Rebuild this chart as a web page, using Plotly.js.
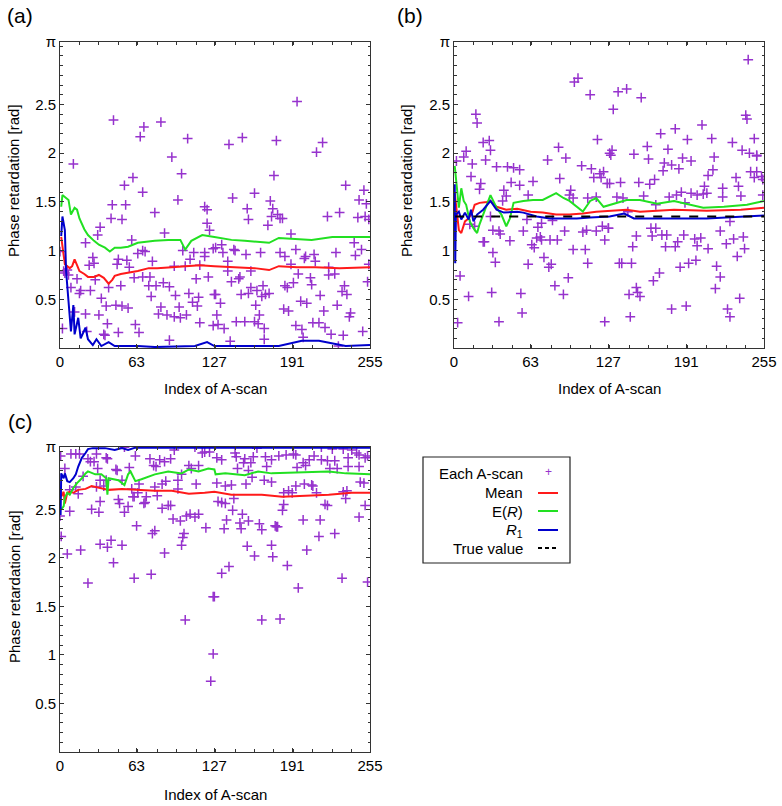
<!DOCTYPE html>
<html>
<head>
<meta charset="utf-8">
<script src="https://cdn.plot.ly/plotly-3.0.1.min.js"></script>
<style>html,body{margin:0;padding:0;background:#fff;}#chart{width:782px;height:806px;}</style>
</head>
<body>
<div id="chart"></div>
<script>
// ---------------- DATA ----------------
var xTickVals = [0, 63, 127, 191, 255];
var xTickText = ['0', '63', '127', '191', '255'];
var yTickVals = [0.5, 1, 1.5, 2, 2.5, Math.PI];
var yTickText = ['0.5', '1', '1.5', '2', '2.5', 'π'];

// Panel (a) – each A-scan
var aScanX = [44,69,66,83,105,11,92,100,60,53,68,97,43,54,119,121,78,42,51,121,33,123,31,86,21,59,0,68,70,64,101,110,119,126,27,48,55,107,119,24,28,76,47,57,94,103,115,4,7,14,29,61,68,74,112,122,9,17,25,40,50,73,79,85,90,16,34,75,95,106,114,127,109,38,46,51,56,83,98,113,21,32,81,88,94,99,104,39,62,115,126,2,22,36,37,48,65,90,12,3,6,
  195,150,139,178,216,211,176,235,160,142,250,246,252,173,154,175,179,155,174,181,183,171,230,220,245,251,254,190,128,133,242,248,143,144,153,165,181,194,243,138,134,185,202,209,227,201,190,210,221,226,221,254,253,138,157,196,206,207,187,185,192,234,236,232,141,147,148,167,157,162,166,172,169,161,128,132,149,155,198,203,214,228,129,130,135,145,152,160,163,164,168,184,188,194,199,208,213,218,217,223,238,239,233,249,140,168,200,229];
var aScanY = [2.34,2.27,2.17,2.32,2.15,1.89,1.96,1.79,1.75,1.67,1.60,1.52,1.47,1.47,1.45,1.42,1.39,1.33,1.32,1.28,1.24,1.21,1.16,1.18,1.08,1.11,0.99,1.00,0.99,0.97,1.00,0.98,0.98,1.02,0.93,0.91,0.90,0.91,0.94,0.85,0.87,0.89,0.86,0.83,0.84,0.84,0.85,0.77,0.75,0.71,0.70,0.72,0.73,0.73,0.71,0.73,0.62,0.59,0.59,0.62,0.64,0.64,0.64,0.67,0.63,0.56,0.51,0.53,0.54,0.56,0.52,0.55,0.47,0.43,0.44,0.43,0.41,0.42,0.42,0.43,0.35,0.34,0.35,0.34,0.32,0.31,0.34,0.25,0.24,0.26,0.23,0.20,0.17,0.14,0.13,0.16,0.16,0.08,0.37,0.79,0.80,
  2.53,2.16,2.09,2.13,2.11,2.01,1.77,1.67,1.59,1.54,1.62,1.52,1.48,1.51,1.43,1.43,1.37,1.32,1.35,1.33,1.33,1.26,1.39,1.35,1.34,1.35,1.32,1.17,1.03,1.06,1.08,1.01,1.01,1.00,0.96,0.98,0.98,1.01,0.95,0.89,0.98,0.94,0.94,0.96,0.98,0.92,0.86,0.89,0.83,0.76,0.75,0.86,0.68,0.79,0.79,0.76,0.72,0.65,0.62,0.64,0.67,0.64,0.55,0.58,0.68,0.71,0.73,0.64,0.62,0.59,0.53,0.56,0.55,0.44,0.55,0.46,0.55,0.56,0.48,0.46,0.54,0.44,0.34,0.24,0.20,0.27,0.27,0.27,0.25,0.34,0.20,0.40,0.38,0.23,0.19,0.26,0.26,0.21,0.38,0.14,0.32,0.36,0.13,0.17,0.07,0.09,0.11,0.02];

var aMeanX = [1,2,4,6,8,10,12,14,16,20,23,28,32,36,40,43,45,50,56,64,73,80,92,106,115,127,150,160,172,180,195,210,230,255];
var aMeanY = [1.14,1.05,0.86,0.84,0.82,0.84,0.91,0.85,0.79,0.76,0.73,0.73,0.75,0.72,0.66,0.70,0.74,0.76,0.77,0.79,0.82,0.82,0.83,0.84,0.85,0.84,0.83,0.82,0.80,0.84,0.83,0.83,0.82,0.83];
var aERX = [1,2,4,7,9,12,14,16,20,23,28,32,37,41,45,50,56,64,78,89,99,103,108,117,127,141,152,172,180,207,224,255];
var aERY = [1.45,1.57,1.55,1.52,1.37,1.44,1.42,1.33,1.22,1.16,1.10,1.06,1.03,0.99,1.03,1.03,1.04,1.08,1.10,1.11,1.11,1.01,1.10,1.16,1.14,1.11,1.10,1.08,1.13,1.11,1.14,1.14];
var aR1X = [1,2,4,5,7,9,11,12,15,17,21,23,27,30,34,40,45,64,78,111,121,127,180,199,213,235,255];
var aR1Y = [1.15,1.35,1.21,0.79,0.48,0.17,0.44,0.14,0.31,0.10,0.21,0.09,0.03,0.09,0.02,0.06,0.02,0.02,0.01,0.02,0.06,0.02,0.02,0.075,0.075,0.02,0.03];

// Panel (b) – each A-scan
var bScanX = [99,102,112,18,19,24,29,30,26,10,8,2,15,35,44,49,54,14,47,54,65,22,21,77,86,92,87,105,113,118,115,120,123,121,126,128,96,41,43,40,61,95,98,117,110,30,13,17,32,37,38,60,57,69,72,81,91,106,109,117,122,127,24,25,46,68,71,72,79,85,124,64,66,32,34,61,74,80,78,98,108,110,94,83,90,5,12,31,55,56,3,37,124,
  242,240,241,135,142,154,131,170,182,204,192,212,247,229,159,176,130,148,129,160,188,214,237,243,249,249,173,179,195,185,172,213,244,249,209,232,247,253,254,128,137,152,161,165,206,221,234,156,177,183,187,195,200,205,208,221,236,254,134,139,190,166,143,127,162,166,150,163,171,175,189,174,182,184,198,203,200,209,224,230,238,239,219,227,147,136,138,146,186,193,199,233,216,219,169,164,215,150,151,153,144,235,191,179,225,227,145];
var bScanY = [2.73,2.77,2.60,2.40,2.31,2.11,2.13,2.03,1.93,2.02,1.96,1.92,1.89,1.86,1.86,1.85,1.83,1.76,1.70,1.67,1.71,1.69,1.63,1.93,2.06,1.95,1.74,1.87,1.84,2.14,1.75,1.79,1.81,1.75,1.69,2.00,1.62,1.62,1.56,1.51,1.57,1.57,1.54,1.55,1.54,1.35,1.27,1.25,1.21,1.20,1.17,1.32,1.20,1.24,1.28,1.31,1.20,1.19,1.21,1.20,1.25,1.23,1.09,1.09,1.10,1.13,1.14,1.11,1.11,1.11,1.11,1.06,1.03,0.98,0.88,0.86,0.93,0.86,0.83,1.01,1.01,0.87,0.72,0.64,0.55,0.74,0.53,0.57,0.56,0.36,0.26,0.27,0.27,
  2.96,2.39,2.35,2.63,2.66,2.57,2.45,2.20,2.25,2.29,2.14,2.15,2.15,2.11,2.07,2.04,2.03,1.99,1.98,1.94,1.95,1.96,2.03,2.00,1.98,1.97,1.90,1.88,1.92,1.84,1.82,1.83,1.81,1.81,1.77,1.75,1.75,1.76,1.73,1.69,1.70,1.70,1.68,1.73,1.66,1.64,1.66,1.56,1.55,1.57,1.60,1.59,1.57,1.58,1.59,1.55,1.56,1.57,1.55,1.54,1.49,1.47,1.40,1.23,1.23,1.23,1.15,1.15,1.16,1.16,1.16,1.04,1.04,1.09,1.12,1.13,1.05,1.02,1.07,1.12,1.14,1.02,1.20,1.30,1.04,0.87,0.87,0.87,0.83,0.87,0.90,0.94,0.84,0.73,0.77,0.69,0.61,0.62,0.57,0.53,0.55,0.51,0.43,0.40,0.40,0.32,0.32];

var bMeanX = [0.6,2,4,6,9,12,15,17,21,27,30,35,43,52,63,73,84,95,106,117,128,142,153,181,208,236,255];
var bMeanY = [1.59,1.40,1.21,1.18,1.30,1.33,1.39,1.47,1.49,1.50,1.51,1.45,1.42,1.43,1.40,1.39,1.37,1.37,1.38,1.40,1.41,1.42,1.40,1.42,1.41,1.42,1.44];
var bERX = [0.6,2,4,6,8,10,13,16,19,21,24,30,35,39,43,46,49,57,65,73,84,90,95,101,106,112,117,123,128,134,142,153,167,181,194,205,222,241,255];
var bERY = [1.87,1.68,1.44,1.64,1.51,1.47,1.30,1.23,1.18,1.27,1.37,1.57,1.44,1.37,1.25,1.33,1.49,1.51,1.52,1.52,1.59,1.54,1.51,1.45,1.40,1.51,1.54,1.45,1.47,1.49,1.52,1.52,1.48,1.51,1.47,1.44,1.45,1.47,1.51];
var bR1X = [0.6,1.0,1.6,4,6,9,12,14,16,19,24,30,35,41,52,57,68,79,90,101,112,128,140,148,181,208,255];
var bR1Y = [1.68,0.87,1.37,1.40,1.32,1.39,1.32,1.42,1.30,1.37,1.42,1.51,1.42,1.39,1.40,1.39,1.35,1.33,1.33,1.33,1.34,1.35,1.38,1.33,1.33,1.33,1.36];
var bTrueX = [1, 255];
var bTrueY = [1.35, 1.35];

// Panel (c) – each A-scan
var cScanX = [0.5,9,13,16,23,25,28,30,38,39,31,47,46,57,62,53,74,77,79,82,86,91,94,106,108,114,111,117,119,123,4,19,33,36,38,51,65,78,84,87,97,100,112,13,8,30,15,64,71,61,59,60,80,97,33,48,49,69,70,84,89,91,56,26,32,8,53,104,107,111,114,93,99,120,63,1,78,76,102,101,33,39,42,51,17,6,86,100,44,23,61,75,103,126,126,124,0,
  162,215,224,233,129,133,144,145,152,159,151,157,169,174,180,186,192,194,200,205,209,215,220,226,237,240,244,246,251,253,146,155,158,170,195,202,222,228,237,246,129,136,141,153,168,174,194,201,207,208,211,233,236,247,250,191,188,184,130,133,143,136,142,150,183,184,218,220,235,251,137,148,155,164,166,177,178,179,200,214,246,135,149,213,226,154,174,160,175,203,187,133,139,127,196,232,253,166,181];
var cScanY = [3.05,3.07,3.07,3.07,3.02,2.99,2.99,3.07,3.03,3.02,2.92,2.90,2.91,2.93,3.05,3.14,3.02,2.95,2.94,3.01,2.99,3.02,3.11,2.95,2.92,2.95,3.14,3.08,3.09,3.09,2.92,2.84,2.80,2.74,2.80,2.80,2.76,2.73,2.76,2.79,2.80,2.86,2.76,2.73,2.70,2.73,2.66,2.67,2.63,2.63,2.71,2.63,2.64,2.71,2.58,2.60,2.56,2.56,2.57,2.51,2.54,2.54,2.53,2.50,2.47,2.48,2.47,2.43,2.45,2.42,2.45,2.40,2.38,2.31,2.33,2.22,2.28,2.25,2.25,2.21,2.14,2.11,2.18,2.13,2.08,2.04,2.05,2.13,1.95,1.74,1.79,1.83,1.36,1.60,1.01,0.73,2.43,
  3.13,3.14,3.12,3.12,3.03,3.01,3.08,3.04,3.02,3.04,2.98,2.98,3.04,3.01,3.05,3.06,3.07,3.06,2.98,3.01,3.05,3.01,3.00,3.00,3.03,3.11,3.08,3.06,3.03,3.05,2.92,2.90,2.83,2.94,2.93,2.95,2.92,2.92,2.94,2.94,2.77,2.74,2.75,2.76,2.80,2.78,2.74,2.76,2.75,2.74,2.67,2.68,2.69,2.78,2.77,2.67,2.69,2.67,2.58,2.57,2.61,2.56,2.49,2.45,2.49,2.55,2.55,2.54,2.61,2.54,2.39,2.36,2.38,2.35,2.29,2.33,2.32,2.32,2.39,2.39,2.42,2.30,2.30,2.22,2.25,2.12,2.13,2.02,2.01,2.08,1.92,1.84,1.91,1.60,1.69,1.79,1.75,1.36,1.37];

var cMeanX = [1,3,4,6,8,11,15,21,26,32,40,51,64,78,92,106,119,127,141,166,183,202,221,240,255];
var cMeanY = [2.63,2.68,2.56,2.67,2.68,2.67,2.70,2.71,2.74,2.72,2.70,2.71,2.70,2.69,2.69,2.66,2.67,2.68,2.65,2.65,2.63,2.64,2.65,2.67,2.67];
var cERX = [1,3,4,6,8,11,14,18,21,23,29,34,38,39,40,48,53,56,58,62,67,78,89,100,106,114,122,127,128,136,152,163,174,194,207,221,235,255];
var cERY = [2.50,2.53,2.62,2.67,2.65,2.72,2.77,2.82,2.87,2.89,2.86,2.86,2.82,2.65,2.82,2.80,2.75,2.86,2.89,2.79,2.81,2.86,2.89,2.87,2.91,2.89,2.92,2.91,2.86,2.87,2.85,2.89,2.87,2.88,2.89,2.89,2.87,2.86];
var cR1X = [0.5,1,3,4,6,8,11,13,15,18,21,23,27,37,45,51,56,62,70,255];
var cR1Y = [2.44,2.87,2.82,2.87,2.79,2.78,2.82,2.86,2.94,3.03,3.08,3.12,3.13,3.13,3.11,3.13,3.11,3.135,3.135,3.135];

// ---------------- STYLE ----------------
var W = 782, H = 806;
function px(x) { return x / W; }
function py(y) { return 1 - y / H; }
var FONT = 'Liberation Sans, Arial, Helvetica, sans-serif';
var C_SCAN = '#9632cd', C_MEAN = '#ff1a1a', C_ER = '#22e022', C_R1 = '#0000cc';

function scan(x, y, n) {
  return {x: x, y: y, xaxis: 'x' + n, yaxis: 'y' + n, type: 'scatter', mode: 'markers',
    marker: {symbol: 'cross-thin-open', size: 7, color: C_SCAN, line: {color: C_SCAN, width: 1.5}},
    showlegend: false, hoverinfo: 'skip'};
}
function line(x, y, n, color, dash) {
  return {x: x, y: y, xaxis: 'x' + n, yaxis: 'y' + n, type: 'scatter', mode: 'lines',
    line: {color: color, width: 2, dash: dash || 'solid'}, showlegend: false, hoverinfo: 'skip'};
}

var data = [
  scan(aScanX, aScanY, ''), line(aMeanX, aMeanY, '', C_MEAN), line(aERX, aERY, '', C_ER), line(aR1X, aR1Y, '', C_R1),
  scan(bScanX, bScanY, '2'), line(bMeanX, bMeanY, '2', C_MEAN), line(bERX, bERY, '2', C_ER), line(bR1X, bR1Y, '2', C_R1),
  line(bTrueX, bTrueY, '2', '#000', 'dash'),
  scan(cScanX, cScanY, '3'), line(cMeanX, cMeanY, '3', C_MEAN), line(cERX, cERY, '3', C_ER), line(cR1X, cR1Y, '3', C_R1)
];

var xMinor = [];
for (var k = 16; k < 255; k += 16) xMinor.push(k);

function xa(x0, x1, anchor) {
  return {domain: [px(x0), px(x1)], range: [0, 255], anchor: anchor, tickmode: 'array',
    tickvals: xTickVals, ticktext: xTickText, ticks: 'inside', ticklen: 4, tickcolor: '#333',
    showline: true, linecolor: '#333', linewidth: 1, mirror: 'allticks', showgrid: false, zeroline: false,
    minor: {tickmode: 'array', tickvals: xMinor, ticks: 'inside', ticklen: 3, tickcolor: '#333'},
    tickfont: {family: FONT, size: 15, color: '#000'}, fixedrange: true};
}
function ya(y0, y1, anchor) {
  return {domain: [py(y1), py(y0)], range: [0, Math.PI], anchor: anchor, tickmode: 'array',
    tickvals: yTickVals, ticktext: yTickText, ticks: 'inside', ticklen: 4, tickcolor: '#333',
    showline: true, linecolor: '#333', linewidth: 1, mirror: 'allticks', showgrid: false, zeroline: false,
    minor: {tick0: 0, dtick: 0.1, ticks: 'inside', ticklen: 2.5, tickcolor: '#333'},
    tickfont: {family: FONT, size: 15, color: '#000'}, fixedrange: true};
}

function ann(x, y, text, opts) {
  var a = {xref: 'paper', yref: 'paper', x: px(x), y: py(y), text: text, showarrow: false,
    font: {family: FONT, size: 15, color: '#000'}, xanchor: 'center', yanchor: 'middle'};
  for (var k in (opts || {})) a[k] = opts[k];
  return a;
}

var annotations = [
  ann(20, 16, '(a)', {font: {family: FONT, size: 21, color: '#000'}}),
  ann(410, 16, '(b)', {font: {family: FONT, size: 21, color: '#000'}}),
  ann(20, 421, '(c)', {font: {family: FONT, size: 21, color: '#000'}}),
  ann(215, 388, 'Index of A-scan'),
  ann(609, 388, 'Index of A-scan'),
  ann(215, 794, 'Index of A-scan'),
  ann(14, 181, 'Phase retardation [rad]', {textangle: -90}),
  ann(407, 181, 'Phase retardation [rad]', {textangle: -90}),
  ann(14, 587, 'Phase retardation [rad]', {textangle: -90}),
  // legend
  ann(525, 473, 'Each A-scan', {xanchor: 'right'}),
  ann(525, 492, 'Mean', {xanchor: 'right'}),
  ann(525, 511, 'E(<i>R</i>)', {xanchor: 'right'}),
  ann(525, 530, '<i>R</i><sub>1</sub>', {xanchor: 'right'}),
  ann(525, 548, 'True value', {xanchor: 'right'}),
  ann(548, 472, '+', {font: {family: FONT, size: 12, color: C_SCAN}})
];

function seg(x0, x1, y, color, dash) {
  return {type: 'line', xref: 'paper', yref: 'paper', x0: px(x0), x1: px(x1), y0: py(y), y1: py(y),
    line: {color: color, width: 2, dash: dash || 'solid'}};
}
var shapes = [
  {type: 'rect', xref: 'paper', yref: 'paper', x0: px(423), x1: px(570), y0: py(563), y1: py(457),
    line: {color: '#222', width: 1.2}, fillcolor: 'rgba(0,0,0,0)'},
  seg(538, 558, 493, C_MEAN),
  seg(538, 558, 511, C_ER),
  seg(538, 558, 530, C_R1),
  seg(538, 558, 548, '#000', '4px,3px')
];

var layout = {
  width: W, height: H, margin: {l: 0, r: 0, t: 0, b: 0},
  paper_bgcolor: '#fff', plot_bgcolor: '#fff', showlegend: false,
  xaxis: xa(60, 370, 'y'), yaxis: ya(42, 348, 'x'),
  xaxis2: xa(454, 764, 'y2'), yaxis2: ya(42, 348, 'x2'),
  xaxis3: xa(60, 370, 'y3'), yaxis3: ya(447, 752, 'x3'),
  annotations: annotations, shapes: shapes,
  font: {family: FONT, size: 15, color: '#000'}
};

Plotly.newPlot('chart', data, layout, {displayModeBar: false, staticPlot: true});
</script>
</body>
</html>
